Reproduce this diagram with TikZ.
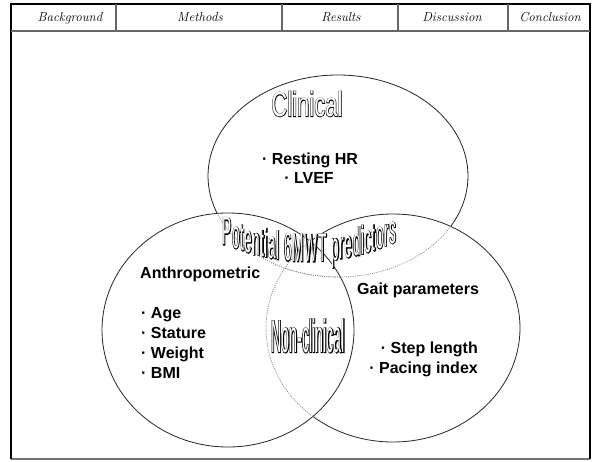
\documentclass[tikz,border=0pt]{standalone}
\usepackage{fontspec}
\usepackage{graphicx}

% body labels
\newfontfamily\lab{Liberation Sans}
% condensed word-art faces: a stroked (black) pass and a plain (white) pass
\newfontfamily\waClin{Liberation Sans}[FakeStretch=0.63]
\newfontfamily\waClinB{Liberation Sans}[FakeStretch=0.63,FakeBold=3]
\newfontfamily\waNon{Liberation Sans}[FakeStretch=0.31]
\newfontfamily\waNonB{Liberation Sans}[FakeStretch=0.31,FakeBold=3]
\newfontfamily\waPot{Liberation Sans}[FakeStretch=0.34]
\newfontfamily\waPotB{Liberation Sans}[FakeStretch=0.34,FakeBold=3]

% hollow lettering: black stroked copy under a white copy
\newcommand\hollow[4]{% size, stroked face, plain face, text
  {\fontsize{#1}{#1}\selectfont\rlap{#2#4}{\color{white}#3#4}}}

\tikzset{
  edgeblack/.style={line width=2.6pt, black},
  edgegray/.style={line width=1.6pt, black!55},
  rule/.style={line width=1.1pt, black!60},
  ring/.style={line width=0.8pt, black!85},
  dotring/.style={line width=0.7pt, black!50, dash pattern=on 1pt off 1.2pt},
  hdr/.style={anchor=base, inner sep=0pt, font=\fontsize{13}{13}\selectfont\itshape},
  lbl/.style={inner sep=0pt, font=\lab\bfseries\fontsize{16}{16}\selectfont},
  arcletter/.style={anchor=base, inner sep=0pt},
  tshape/.style={x radius=130pt, y radius=101pt},
  lshape/.style={x radius=126pt, y radius=117pt},
  rshape/.style={x radius=127pt, y radius=114pt},
}

\begin{document}
\begin{tikzpicture}[x=1pt,y=-1pt]
\useasboundingbox (0,0) rectangle (597,461);
\fill[white] (0,0) rectangle (597,461);

% ---- outer frame and header row ----
\coordinate (fTL) at (11,4);
\coordinate (fTR) at (590,4);
\coordinate (fBL) at (11,459);
\coordinate (fBR) at (590,459);
\coordinate (hL) at (11,31);
\coordinate (hR) at (590,31);
\draw[edgegray] (fBL) -- (fBR);
\draw[edgeblack] (fBL) -- (fTL) -- (fTR) -- (fBR);
\draw[rule] (hL) -- (hR);
\foreach \x/\n in {116/a,282/b,398/c,508/d}{
  \coordinate (dt\n) at (\x,4);
  \coordinate (db\n) at (\x,31);
  \draw[rule] (dt\n) -- (db\n);
}
\node[hdr] (hBack) at (70,21) {Background};
\node[hdr] (hMeth) at (200,21) {Methods};
\node[hdr] (hRes)  at (341,21) {Results};
\node[hdr] (hDisc) at (452,21) {Discussion};
\node[hdr] (hConc) at (550,21) {Conclusion};

% ---- the three sets ----
\coordinate (cT) at (338,176);
\coordinate (cL) at (228,330);
\coordinate (cR) at (393,328);

\draw[ring] (cT) ellipse [tshape];
\fill[white] (cR) ellipse [rshape];
\draw[ring] (cR) ellipse [rshape];
\fill[white] (cL) ellipse [lshape];
\draw[ring] (cL) ellipse [lshape];
% hidden parts shown dotted
\begin{scope}
  \clip (cR) ellipse [rshape];
  \draw[dotring] (cT) ellipse [tshape];
\end{scope}
\begin{scope}
  \clip (cL) ellipse [lshape];
  \draw[dotring] (cT) ellipse [tshape];
  \draw[dotring] (cR) ellipse [rshape];
\end{scope}

% ---- clinical set ----
\node[inner sep=0pt] (clin) at (307,104) {\hollow{35}{\waClinB}{\waClin}{Clinical}};
\node[lbl, anchor=base] (rhr) at (310,164) {· Resting HR};
\node[lbl, anchor=base] (lvef) at (309,183) {· LVEF};

% ---- anthropometric set ----
\node[lbl, anchor=base west] (anth) at (140,278) {Anthropometric};
\node[lbl, anchor=base west] (age) at (141,318) {· Age};
\node[lbl, anchor=base west] (stat) at (141,338) {· Stature};
\node[lbl, anchor=base west] (wgt) at (141,358) {· Weight};
\node[lbl, anchor=base west] (bmi) at (141,378) {· BMI};

% ---- gait set ----
\node[lbl, anchor=base west] (gait) at (357,294) {Gait parameters};
\node[lbl, anchor=base east] (step) at (478,353) {· Step length};
\node[lbl, anchor=base east] (pace) at (478,373) {· Pacing index};

% ---- overlap captions ----
\node[inner sep=0pt] (nonc) at (308,336) {\hollow{46}{\waNonB}{\waNon}{Non-clinical}};

% arched caption: upright letters (given by their centres) on a sagging baseline
\foreach \c/\x [count=\i] in {P/226.9, o/236.0, t/242.2, e/248.3, n/256.5,
    t/262.8, i/266.5, a/272.2, l/277.9, 6/287.8, M/298.1, W/311.3, T/322.7,
    p/335.5, r/342.1, e/348.6, d/356.9, i/362.6, c/368.0, t/373.8, o/379.9,
    r/386.5, s/392.7}{
  \pgfmathsetmacro\yb{262-0.0026*(\x-308)^2}
  \node[arcletter] (pot\i) at (\x,\yb) {\hollow{40}{\waPotB}{\waPot}{\c}};
}
\end{tikzpicture}
\end{document}
